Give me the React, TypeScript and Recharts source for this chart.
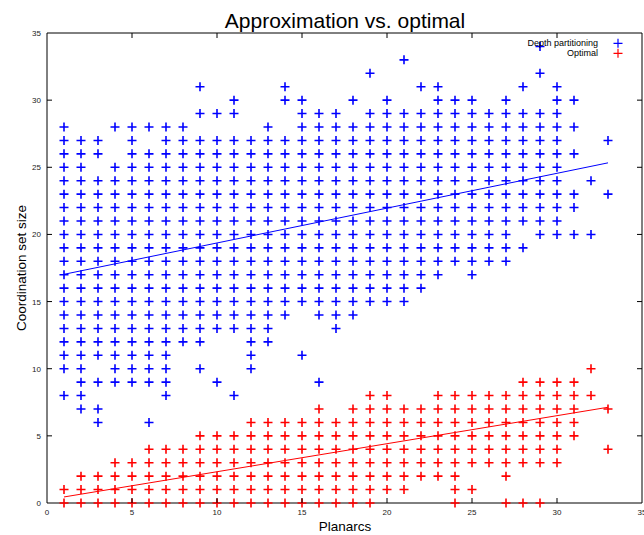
import React from "react";
import { ScatterChart, Scatter, XAxis, YAxis, ReferenceLine, ReferenceArea } from "recharts";

// ---- data ----
const planarcs = [1,2,3,4,5,6,7,8,9,10,11,12,13,14,15,16,17,18,19,20,21,22,23,24,25,26,27,28,29,30,31,32,33];

// Coordination set sizes found by depth partitioning, one list per planarcs value
const depthPartitioning: number[][] = [
  [8,10,11,12,13,14,15,16,17,18,19,20,21,22,23,24,25,26,27,28],
  [7,8,9,10,11,12,13,14,15,16,17,18,19,20,21,22,23,24,25,26,27],
  [6,7,9,11,12,13,14,15,16,17,18,19,20,21,22,23,24,26,27],
  [9,10,11,12,13,14,15,16,17,18,19,20,21,22,23,24,25,28],
  [9,10,11,12,13,14,15,16,17,18,19,20,21,22,23,24,25,26,27,28],
  [6,9,10,11,12,13,14,15,16,17,18,19,20,21,22,23,24,25,26,28],
  [8,9,10,11,12,13,14,15,16,17,18,19,20,21,22,23,24,25,26,27,28],
  [12,13,14,15,16,17,18,19,20,21,22,23,24,25,26,27,28],
  [10,12,13,14,15,16,17,18,19,20,21,22,23,24,25,26,27,29,31],
  [9,13,14,15,16,17,18,19,20,21,22,23,24,25,26,27,29],
  [8,13,14,15,16,17,18,19,20,21,22,23,24,25,26,27,29,30],
  [10,11,12,13,14,15,16,17,18,19,20,21,22,23,24,25,26,27],
  [12,13,14,15,16,17,18,19,20,21,22,23,24,25,26,27,28],
  [14,15,16,17,18,19,20,21,22,23,24,25,26,27,30,31],
  [11,15,16,17,18,19,20,21,22,23,24,25,26,27,28,29,30],
  [9,14,15,16,17,18,19,20,21,22,23,24,25,26,27,28,29],
  [13,14,15,16,17,18,19,20,21,22,23,24,25,26,27,28,29],
  [14,15,16,17,18,19,20,21,22,23,24,25,26,27,28,30],
  [15,16,17,18,19,20,21,22,23,24,25,26,27,28,29,32],
  [15,16,17,18,19,20,21,22,23,24,25,26,27,28,29,30],
  [15,16,17,18,19,20,21,22,23,24,25,26,27,28,29,33],
  [16,17,18,19,20,21,22,23,24,25,26,27,28,29,31],
  [17,18,19,20,21,22,23,24,25,26,27,28,29,30,31],
  [18,19,20,21,22,23,24,25,26,27,28,29,30],
  [17,18,19,20,21,22,23,24,25,26,27,28,29,30],
  [18,19,20,21,22,23,24,25,26,27,28,29],
  [18,19,20,21,22,23,24,25,26,27,28,29,30],
  [19,21,22,23,24,25,26,27,28,29,31],
  [20,21,22,23,24,25,26,27,28,29,32,34],
  [20,21,22,23,24,25,26,27,28,29,30,31],
  [20,22,23,26,28,30],
  [20,24],
  [23,27],
];

// Optimal coordination set sizes, one list per planarcs value
const optimal: number[][] = [
  [0,1],
  [0,1,2],
  [0,1,2],
  [0,1,2,3],
  [0,1,2,3],
  [0,1,2,3,4],
  [0,1,2,3,4],
  [0,1,2,3,4],
  [0,1,2,3,4,5],
  [0,1,2,3,4,5],
  [0,1,2,3,4,5],
  [0,1,2,3,4,5,6],
  [0,1,2,3,4,5,6],
  [0,1,2,3,4,5,6],
  [0,1,2,3,4,5,6],
  [0,1,2,3,4,5,6,7],
  [0,1,2,3,4,5,6],
  [0,1,2,3,4,5,6,7],
  [0,1,2,3,4,5,6,7,8],
  [1,2,3,4,5,6,7,8],
  [1,2,3,4,5,6,7],
  [2,3,4,5,6,7],
  [2,3,4,5,6,7,8],
  [0,1,2,3,4,5,6,7,8],
  [1,3,4,5,6,7,8],
  [3,4,5,6,7,8],
  [0,2,3,4,5,6,7,8],
  [0,3,4,5,6,7,8,9],
  [0,3,4,5,6,7,8,9],
  [3,4,5,6,7,8,9],
  [5,6,7,8,9],
  [8,10],
  [4,7],
];

// Least-squares fit lines (end points)
const depthFit = [{ x: 1, y: 17.03 }, { x: 33, y: 25.33 }];
const optimalFit = [{ x: 1, y: 0.45 }, { x: 33, y: 7.13 }];

const axisTicks = [0, 5, 10, 15, 20, 25, 30, 35];

// ---- layout / style ----
const W = 644;
const H = 535;
const PLOT = { left: 47, top: 33, right: 642, bottom: 503 };
const FONT = "'Liberation Sans', Arial, Helvetica, sans-serif";
const BLUE = "#0000ff";
const RED = "#ff0000";
const TICK_LEN = 5;

const toPoints = (cols: number[][]) =>
  cols.flatMap((ys, i) => ys.map((y) => ({ x: planarcs[i], y })));

const depthData = toPoints(depthPartitioning);
const optimalData = toPoints(optimal);

const makePlus = (color: string) => (props: any) => {
  const { cx, cy } = props;
  if (cx == null || cy == null) return <g />;
  return (
    <path
      d={`M${cx - 4.5},${cy}H${cx + 4.5}M${cx},${cy - 4.5}V${cy + 4.5}`}
      stroke={color}
      strokeWidth={1.6}
      fill="none"
    />
  );
};

const XTick = (props: any) => {
  const { x, payload } = props;
  const v = payload.value;
  const edge = v === 0 || v === 35;
  return (
    <g>
      {!edge && (
        <>
          <line x1={x} x2={x} y1={PLOT.bottom} y2={PLOT.bottom - TICK_LEN} stroke="#000" strokeWidth={1} />
          <line x1={x} x2={x} y1={PLOT.top} y2={PLOT.top + TICK_LEN} stroke="#000" strokeWidth={1} />
        </>
      )}
      <text x={x} y={PLOT.bottom + 12} textAnchor="middle" fontSize={8} fill="#222" fontFamily={FONT}>
        {v}
      </text>
    </g>
  );
};

const YTick = (props: any) => {
  const { y, payload } = props;
  const v = payload.value;
  const edge = v === 0 || v === 35;
  return (
    <g>
      {!edge && (
        <>
          <line x1={PLOT.left} x2={PLOT.left + TICK_LEN} y1={y} y2={y} stroke="#000" strokeWidth={1} />
          <line x1={PLOT.right} x2={PLOT.right - TICK_LEN} y1={y} y2={y} stroke="#000" strokeWidth={1} />
        </>
      )}
      <text x={PLOT.left - 6} y={y + 3} textAnchor="end" fontSize={8} fill="#222" fontFamily={FONT}>
        {v}
      </text>
    </g>
  );
};

export default function App() {
  return (
    <div style={{ position: "absolute", left: 0, top: 0, width: W, height: H, background: "#fff" }}>
      <ScatterChart
        width={W}
        height={H}
        margin={{ top: PLOT.top, right: W - PLOT.right, bottom: 2, left: 0 }}
      >
        <XAxis
          type="number"
          dataKey="x"
          domain={[0, 35]}
          ticks={axisTicks}
          axisLine={false}
          tickLine={false}
          height={30}
          tick={(p: any) => <XTick {...p} />}
          interval={0}
        />
        <YAxis
          type="number"
          dataKey="y"
          domain={[0, 35]}
          ticks={axisTicks}
          axisLine={false}
          tickLine={false}
          width={PLOT.left}
          tick={(p: any) => <YTick {...p} />}
          interval={0}
        />
        <ReferenceArea x1={0} x2={35} y1={0} y2={35} fill="none" stroke="#000" strokeWidth={1} fillOpacity={0} ifOverflow="visible" />
        <Scatter
          name="Depth partitioning"
          data={depthData}
          shape={makePlus(BLUE)}
          isAnimationActive={false}
        />
        <Scatter
          name="Optimal"
          data={optimalData}
          shape={makePlus(RED)}
          isAnimationActive={false}
        />
        <ReferenceLine
          segment={depthFit}
          stroke={BLUE}
          strokeWidth={1}
          ifOverflow="visible"
        />
        <ReferenceLine
          segment={optimalFit}
          stroke={RED}
          strokeWidth={1}
          ifOverflow="visible"
        />
      </ScatterChart>
      <svg
        width={W}
        height={H}
        style={{ position: "absolute", left: 0, top: 0, pointerEvents: "none" }}
      >
        <text x={345} y={27.5} textAnchor="middle" fontSize={21} fill="#000" fontFamily={FONT}>
          Approximation vs. optimal
        </text>
        <text x={345} y={531} textAnchor="middle" fontSize={13.5} fill="#000" fontFamily={FONT}>
          Planarcs
        </text>
        <text
          x={26}
          y={268}
          textAnchor="middle"
          fontSize={13.5}
          fill="#000"
          fontFamily={FONT}
          transform="rotate(-90 26 268)"
        >
          Coordination set size
        </text>
        <text x={598} y={46} textAnchor="end" fontSize={9} fill="#000" fontFamily={FONT}>
          Depth partitioning
        </text>
        <path d="M613.5,43.3H622.5M618,38.8V47.8" stroke={BLUE} strokeWidth={1.2} />
        <text x={598} y={56} textAnchor="end" fontSize={9} fill="#000" fontFamily={FONT}>
          Optimal
        </text>
        <path d="M613.5,53.3H622.5M618,48.8V57.8" stroke={RED} strokeWidth={1.2} />
      </svg>
    </div>
  );
}
